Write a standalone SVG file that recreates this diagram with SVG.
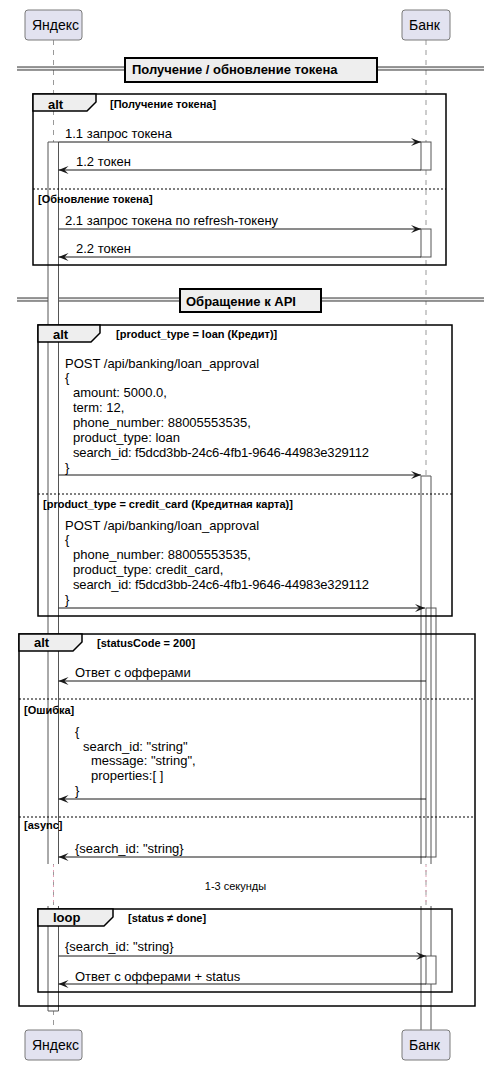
<svg xmlns="http://www.w3.org/2000/svg" width="500" height="1075" viewBox="0 0 500 1075">
<style>
text{font-family:"Liberation Sans",Arial,sans-serif;fill:#000}
.p{font-size:14px}
.m{font-size:13px}
.g{font-size:11px;font-weight:bold}
.f{font-size:13px;font-weight:bold}
.d{font-size:11px}
.part{fill:#E2E2F0;stroke:#7a7a7a;stroke-width:1}
.life{stroke:#999;stroke-width:1;stroke-dasharray:5,5;fill:none}
.delay{stroke:#E0A0B4;stroke-width:1;stroke-dasharray:2,3;fill:none}
.bar{fill:#fff;stroke:none}
.barl{fill:none;stroke:#555;stroke-width:1}
.frame{fill:none;stroke:#000;stroke-width:1.5}
.tab{fill:#EEEEEE;stroke:#000;stroke-width:1.5}
.sep{stroke:#000;stroke-width:1;stroke-dasharray:2,2}
.msg{stroke:#181818;stroke-width:1;fill:none;marker-end:url(#ah)}
.div{stroke:#333;stroke-width:1}
.divbox{fill:#EEEEEE;stroke:#000;stroke-width:2}
</style>
<defs>
<marker id="ah" markerUnits="userSpaceOnUse" markerWidth="11" markerHeight="9" refX="10" refY="4" orient="auto">
<path d="M0,0 L10,4 L0,8 L4,4 Z" fill="#181818"/>
</marker>
</defs>

<!-- lifelines -->
<g id="lifelines">
<line class="life" x1="53.5" y1="40" x2="53.5" y2="1030"/>
<line class="life" x1="426" y1="40" x2="426" y2="1030"/>
</g>

<!-- dividers -->
<g id="divider1">
<rect x="17" y="67" width="467" height="3" fill="#EEEEEE"/>
<line class="div" x1="17" y1="67" x2="484" y2="67"/>
<line class="div" x1="17" y1="70" x2="484" y2="70"/>
<rect class="divbox" x="125" y="58" width="252" height="24"/>
<text class="f" x="132" y="74">Получение / обновление токена</text>
</g>
<g id="divider2">
<rect x="17" y="298" width="467" height="3" fill="#EEEEEE"/>
<line class="div" x1="17" y1="298" x2="484" y2="298"/>
<line class="div" x1="17" y1="301" x2="484" y2="301"/>
<rect class="divbox" x="180" y="289" width="141" height="23"/>
<text class="f" x="186" y="305.5">Обращение к API</text>
</g>

<!-- activation bars -->
<g id="bars">
<rect class="bar" x="48" y="142" width="10.5" height="722"/>
<path class="barl" d="M48,864 V142 H58.5 V864"/>
<rect class="bar" x="48" y="906" width="10.5" height="105"/>
<path class="barl" d="M48,906 V1011 H58.5 V906"/>

<rect class="bar" x="421" y="142" width="10" height="28"/>
<rect class="barl" x="421" y="142" width="10" height="28"/>
<rect class="bar" x="421" y="229" width="10" height="28"/>
<rect class="barl" x="421" y="229" width="10" height="28"/>

<rect class="bar" x="421" y="476" width="10" height="388"/>
<path class="barl" d="M421,864 V476 H431 V864"/>
<rect class="bar" x="421" y="906" width="10" height="124"/>
<path class="barl" d="M421,906 V1030 M431,906 V1030"/>
<rect class="barl" x="426" y="608" width="10" height="249"/>
<rect class="bar" x="426" y="956" width="10" height="28"/>
<rect class="barl" x="426" y="956" width="10" height="28"/>

<line class="delay" x1="53.5" y1="865" x2="53.5" y2="905"/>
<line class="delay" x1="426" y1="865" x2="426" y2="905"/>
</g>

<!-- participants -->
<g id="yandex-top">
<rect class="part" x="25" y="10" width="57" height="30" rx="3"/>
<text class="p" x="32" y="30">Яндекс</text>
</g>
<g id="bank-top">
<rect class="part" x="402" y="10" width="48" height="30" rx="3"/>
<text class="p" x="409" y="30">Банк</text>
</g>
<g id="yandex-bottom">
<rect class="part" x="25" y="1030" width="57" height="30" rx="3"/>
<text class="p" x="32" y="1050">Яндекс</text>
</g>
<g id="bank-bottom">
<rect class="part" x="402" y="1030" width="48" height="30" rx="3"/>
<text class="p" x="409" y="1050">Банк</text>
</g>

<!-- alt 1 -->
<g id="alt1">
<rect class="frame" x="33" y="94" width="413" height="171"/>
<path class="tab" d="M33,94 H96 V102 L87,111 H33 Z"/>
<text class="f" x="48" y="108.5">alt</text>
<text class="g" x="110" y="108">[Получение токена]</text>
<line class="sep" x1="33" y1="189" x2="446" y2="189"/>
<text class="g" x="38" y="202.5">[Обновление токена]</text>
</g>

<!-- alt 2 -->
<g id="alt2">
<rect class="frame" x="38" y="325" width="414" height="291"/>
<path class="tab" d="M38,325 H100 V333 L91,342 H38 Z"/>
<text class="f" x="53" y="338.5">alt</text>
<text class="g" x="116" y="338">[product_type = loan (Кредит)]</text>
<line class="sep" x1="38" y1="494" x2="452" y2="494"/>
<text class="g" x="43" y="507.5">[product_type = credit_card (Кредитная карта)]</text>
</g>

<!-- alt 3 -->
<g id="alt3">
<rect class="frame" x="19" y="634" width="456" height="372"/>
<path class="tab" d="M19,634 H82 V642 L73,651 H19 Z"/>
<text class="f" x="34" y="647">alt</text>
<text class="g" x="97" y="646.5">[statusCode = 200]</text>
<line class="sep" x1="19" y1="699" x2="475" y2="699"/>
<text class="g" x="24" y="713.5">[Ошибка]</text>
<line class="sep" x1="19" y1="817" x2="475" y2="817"/>
<text class="g" x="24" y="829">[async]</text>
<text class="d" x="235.5" y="890" text-anchor="middle">1-3 секунды</text>
</g>

<!-- loop -->
<g id="loop">
<rect class="frame" x="38" y="909" width="414" height="83"/>
<path class="tab" d="M38,909 H113 V917 L104,926 H38 Z"/>
<text class="f" x="53" y="922">loop</text>
<text class="g" x="128" y="922">[status ≠ done]</text>
</g>

<!-- connectors -->
<g id="connectors">
<line class="msg" x1="58.5" y1="142" x2="421" y2="142"/>
<line class="msg" x1="421" y1="170" x2="58.5" y2="170"/>
<line class="msg" x1="58.5" y1="229" x2="421" y2="229"/>
<line class="msg" x1="421" y1="257" x2="58.5" y2="257"/>
<line class="msg" x1="58.5" y1="475" x2="421" y2="475"/>
<line class="msg" x1="58.5" y1="608" x2="425" y2="608"/>
<line class="msg" x1="426" y1="681" x2="58.5" y2="681"/>
<line class="msg" x1="426" y1="799" x2="58.5" y2="799"/>
<line class="msg" x1="426" y1="857" x2="58.5" y2="857"/>
<line class="msg" x1="58.5" y1="956" x2="426" y2="956"/>
<line class="msg" x1="426" y1="984" x2="58.5" y2="984"/>
</g>

<!-- message labels -->
<g id="labels">
<text class="m" x="65" y="137.5">1.1 запрос токена</text>
<text class="m" x="76" y="166">1.2 токен</text>
<text class="m" x="65" y="225">2.1 запрос токена по refresh-токену</text>
<text class="m" x="76" y="253">2.2 токен</text>

<text class="m" x="65" y="367.5">POST /api/banking/loan_approval</text>
<text class="m" x="65" y="382.4">{</text>
<text class="m" x="73" y="397.3">amount: 5000.0,</text>
<text class="m" x="73" y="412.2">term: 12,</text>
<text class="m" x="73" y="427.1">phone_number: 88005553535,</text>
<text class="m" x="73" y="442">product_type: loan</text>
<text class="m" x="73" y="456.9" textLength="296">search_id: f5dcd3bb-24c6-4fb1-9646-44983e329112</text>
<text class="m" x="65" y="471.8">}</text>

<text class="m" x="65" y="529.5">POST /api/banking/loan_approval</text>
<text class="m" x="65" y="544.4">{</text>
<text class="m" x="73" y="559.3">phone_number: 88005553535,</text>
<text class="m" x="73" y="574.2">product_type: credit_card,</text>
<text class="m" x="73" y="589.1" textLength="296">search_id: f5dcd3bb-24c6-4fb1-9646-44983e329112</text>
<text class="m" x="65" y="604">}</text>

<text class="m" x="75" y="677">Ответ с офферами</text>

<text class="m" x="75" y="736">{</text>
<text class="m" x="83" y="750.5">search_id: "string"</text>
<text class="m" x="91" y="765.2">message: "string",</text>
<text class="m" x="91" y="780">properties:[ ]</text>
<text class="m" x="75" y="794.5">}</text>

<text class="m" x="75" y="853">{search_id: "string}</text>
<text class="m" x="65" y="951">{search_id: "string}</text>
<text class="m" x="75" y="980.5">Ответ с офферами + status</text>
</g>
</svg>
